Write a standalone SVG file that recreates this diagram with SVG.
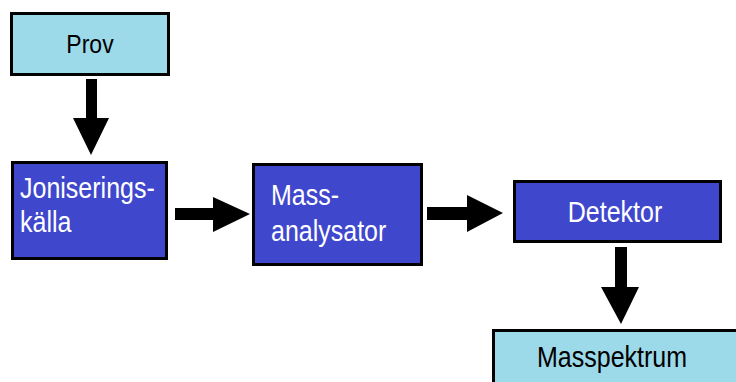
<svg xmlns="http://www.w3.org/2000/svg" width="736" height="382" viewBox="0 0 736 382">
  <style>
    .light { fill: #9cd9e9; stroke: #000; stroke-width: 3; }
    .dark { fill: #3f47cc; stroke: #000; stroke-width: 3; }
    .lbl { font-family: "Liberation Sans", Arial, sans-serif; font-size: 25px; }
    .lbl-dark { fill: #fff; }
    .lbl-light { fill: #000; }
    .arrow { fill: #000; }
  </style>
  <rect width="736" height="382" fill="#fff"/>

  <g id="prov">
    <rect class="light" x="11.5" y="13.5" width="157" height="61"/>
    <text class="lbl lbl-light" transform="translate(90,53) scale(1,1.15)" text-anchor="middle" style="font-size:23px">Prov</text>
  </g>

  <g id="joniseringskalla">
    <rect class="dark" x="12.5" y="162.5" width="154" height="96"/>
    <text class="lbl lbl-dark" transform="translate(20,198) scale(1,1.15)">Joniserings-</text>
    <text class="lbl lbl-dark" transform="translate(20,232) scale(1,1.15)">källa</text>
  </g>

  <g id="massanalysator">
    <rect class="dark" x="253.5" y="164.5" width="168" height="100"/>
    <text class="lbl lbl-dark" transform="translate(271,205) scale(1,1.15)">Mass-</text>
    <text class="lbl lbl-dark" transform="translate(271,241) scale(1,1.15)">analysator</text>
  </g>

  <g id="detektor">
    <rect class="dark" x="514.5" y="181.5" width="206" height="60"/>
    <text class="lbl lbl-dark" transform="translate(615,222) scale(1,1.15)" text-anchor="middle">Detektor</text>
  </g>

  <g id="masspektrum">
    <rect class="light" x="493.5" y="330.5" width="250" height="60"/>
    <text class="lbl lbl-light" transform="translate(537,367) scale(1,1.15)">Masspektrum</text>
  </g>

  <g id="connectors">
    <!-- Prov down to Joniseringskälla -->
    <polygon class="arrow" points="86,79 97,79 97,118 109,118 91,155 73,118 86,118"/>
    <!-- Joniseringskälla to Massanalysator -->
    <polygon class="arrow" points="175,208 213,208 213,197 250,214 213,232 213,220 175,220"/>
    <!-- Massanalysator to Detektor -->
    <polygon class="arrow" points="427,207 467,207 467,195 503,213 467,232 467,220 427,220"/>
    <!-- Detektor down to Masspektrum -->
    <polygon class="arrow" points="615,247 627,247 627,287 639,287 621,324 601,287 615,287"/>
  </g>
</svg>
